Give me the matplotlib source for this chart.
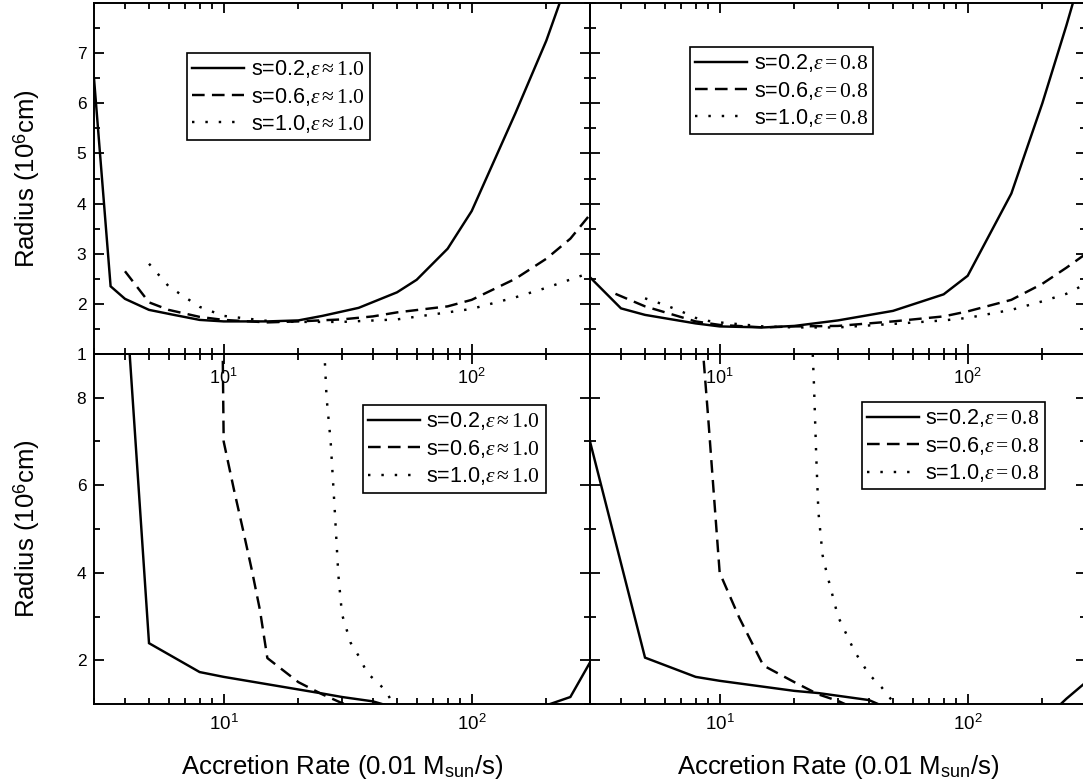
import numpy as np
import matplotlib
matplotlib.use("Agg")
import matplotlib.pyplot as plt
from matplotlib.ticker import LogLocator, FixedLocator, MultipleLocator, NullFormatter

plt.rcParams['font.family'] = ['Liberation Sans', 'DejaVu Sans']
# sans for plain text, Times-like serif for the epsilon part of the legend
plt.rcParams['mathtext.fontset'] = 'custom'
plt.rcParams['mathtext.rm'] = 'Liberation Sans'
plt.rcParams['mathtext.it'] = 'Liberation Serif:italic'
plt.rcParams['mathtext.sf'] = 'Liberation Serif'
plt.rcParams['mathtext.bf'] = 'Liberation Sans:bold'

# top left panel, eps ~ 1.0
x_tl_s02 = [3, 3.5, 4, 5, 6.3, 8, 10, 15, 20, 25, 35, 50, 60, 80, 100, 150, 200, 250]
r_tl_s02 = [6.5, 2.35, 2.1, 1.88, 1.78, 1.68, 1.65, 1.65, 1.67, 1.76, 1.92, 2.23, 2.48, 3.1, 3.85, 5.8, 7.25, 8.6]
x_tl_s06 = [4, 5, 6, 8, 10, 15, 20, 30, 40, 50, 80, 100, 150, 200, 250, 300]
r_tl_s06 = [2.65, 2.03, 1.88, 1.74, 1.68, 1.63, 1.65, 1.69, 1.75, 1.83, 1.95, 2.08, 2.5, 2.9, 3.3, 3.78]
x_tl_s10 = [5, 6, 7, 8, 10, 15, 20, 30, 50, 80, 100, 150, 200, 300]
r_tl_s10 = [2.8, 2.35, 2.13, 1.94, 1.76, 1.66, 1.64, 1.64, 1.69, 1.83, 1.9, 2.13, 2.32, 2.62]

# top right panel, eps = 0.8
x_tr_s02 = [3, 4, 5, 8, 10, 15, 20, 30, 50, 80, 100, 150, 200, 250, 300]
r_tr_s02 = [2.53, 1.91, 1.78, 1.61, 1.55, 1.53, 1.56, 1.67, 1.86, 2.19, 2.56, 4.2, 6.0, 7.55, 8.9]
x_tr_s06 = [3.8, 5, 8, 10, 15, 20, 30, 50, 80, 100, 150, 200, 250, 300]
r_tr_s06 = [2.2, 1.95, 1.65, 1.58, 1.53, 1.55, 1.56, 1.65, 1.75, 1.85, 2.08, 2.4, 2.72, 3.0]
x_tr_s10 = [5, 6, 7, 8, 9, 10, 15, 20, 30, 50, 80, 100, 150, 200, 250, 300]
r_tr_s10 = [2.11, 1.98, 1.85, 1.72, 1.66, 1.63, 1.55, 1.53, 1.53, 1.6, 1.67, 1.72, 1.88, 2.05, 2.2, 2.4]

# bottom left panel, eps ~ 1.0
x_bl_s02 = [4, 5, 8, 10, 25, 30, 40, 50, 100, 200, 250, 300]
r_bl_s02 = [10.6, 2.39, 1.73, 1.62, 1.24, 1.16, 1.06, 0.9, 0.6, 0.97, 1.16, 1.95]
x_bl_s06 = [9.9, 10, 11, 12, 13, 14, 15, 20, 25, 30, 35]
r_bl_s06 = [9.3, 7.0, 5.9, 4.95, 4.05, 3.15, 2.05, 1.5, 1.22, 1.02, 0.9]
x_bl_s10 = [25.3, 26, 27, 28, 29, 30, 32.5, 35, 38, 42, 45, 50]
r_bl_s10 = [9.4, 8.0, 7.0, 5.5, 3.95, 3.05, 2.4, 2.1, 1.7, 1.48, 1.3, 0.85]

# bottom right panel, eps = 0.8
x_br_s02 = [3, 5, 8, 10, 20, 25, 40, 50, 100, 200, 250, 300]
r_br_s02 = [7.0, 2.06, 1.62, 1.53, 1.30, 1.25, 1.09, 0.85, 0.6, 0.6, 1.12, 1.5]
x_br_s06 = [8.5, 9, 9.5, 10, 12, 15, 20, 25, 30, 35]
r_br_s06 = [9.3, 7.5, 5.7, 4.0, 2.97, 1.88, 1.5, 1.22, 1.07, 0.9]
x_br_s10 = [23.5, 24.0, 24.5, 25.0, 26, 27, 30, 35, 40, 45, 50, 55]
r_br_s10 = [9.6, 8.3, 6.7, 5.4, 4.4, 4.0, 3.0, 2.2, 1.68, 1.38, 1.05, 0.8]

labels_eps1 = [r's=0.2,$\varepsilon\mathsf{\approx1.0}$', r's=0.6,$\varepsilon\mathsf{\approx1.0}$',
               r's=1.0,$\varepsilon\mathsf{\approx1.0}$']
labels_eps08 = [r's=0.2,$\varepsilon\mathsf{=0.8}$', r's=0.6,$\varepsilon\mathsf{=0.8}$',
                r's=1.0,$\varepsilon\mathsf{=0.8}$']

styles = ['-', (0, (5.2, 3)), (0, (1, 4.5))]

W, H = 1083, 784
fig = plt.figure(figsize=(W / 100, H / 100), dpi=100)

# pixel boxes of the four panels
x_left, x_mid, pw = 94, 590, 496
y_top, y_mid, y_bot = 3, 354, 704


def make_axes(x0, ytop, ybottom):
    ax = fig.add_axes([x0 / W, (H - ybottom) / H, pw / W, (ybottom - ytop) / H])
    ax.patch.set_visible(False)
    return ax


ax_bl = make_axes(x_left, y_mid, y_bot)
ax_br = make_axes(x_mid, y_mid, y_bot)
ax_tl = make_axes(x_left, y_top, y_mid)
ax_tr = make_axes(x_mid, y_top, y_mid)

panels = [
    (ax_tl, [(x_tl_s02, r_tl_s02), (x_tl_s06, r_tl_s06), (x_tl_s10, r_tl_s10)], labels_eps1, (0.1875, 0.858)),
    (ax_tr, [(x_tr_s02, r_tr_s02), (x_tr_s06, r_tr_s06), (x_tr_s10, r_tr_s10)], labels_eps08, (0.2016, 0.875)),
    (ax_bl, [(x_bl_s02, r_bl_s02), (x_bl_s06, r_bl_s06), (x_bl_s10, r_bl_s10)], labels_eps1, (0.5423, 0.854)),
    (ax_br, [(x_br_s02, r_br_s02), (x_br_s06, r_br_s06), (x_br_s10, r_br_s10)], labels_eps08, (0.548, 0.863)),
]

for ax, series, labels, anchor in panels:
    for (xs, rs), ls, lab in zip(series, styles, labels):
        ax.plot(xs, rs, color='black', linestyle=ls, linewidth=1.75, label=lab,
                dash_capstyle='butt', solid_joinstyle='miter')
    ax.set_xscale('log')
    ax.set_xlim(3, 300)
    ax.xaxis.set_major_locator(LogLocator(base=10))
    ax.xaxis.set_minor_locator(LogLocator(base=10, subs=np.arange(2, 10)))
    ax.xaxis.set_minor_formatter(NullFormatter())
    for sp in ax.spines.values():
        sp.set_linewidth(1.4)
    ax.tick_params(which='both', direction='in', top=True, right=True, width=1.3)
    ax.tick_params(which='major', length=7.5)
    ax.tick_params(which='minor', length=4.5)
    leg = ax.legend(loc='upper left', bbox_to_anchor=anchor, fontsize=15.5,
                    handlelength=2.4, handletextpad=0.3, borderpad=0.25,
                    labelspacing=0.25, borderaxespad=0, fancybox=False,
                    framealpha=1, edgecolor='black')
    leg.get_frame().set_linewidth(1.2)

for ax in (ax_tl, ax_tr):
    ax.set_ylim(1, 8)
    ax.yaxis.set_major_locator(FixedLocator([1, 2, 3, 4, 5, 6, 7]))
    ax.yaxis.set_minor_locator(MultipleLocator(0.5))
    ax.tick_params(axis='x', which='major', labelsize=13, pad=10)

for ax in (ax_bl, ax_br):
    ax.set_ylim(1, 9)
    ax.yaxis.set_major_locator(MultipleLocator(2))
    ax.yaxis.set_minor_locator(MultipleLocator(1))
    ax.tick_params(axis='x', which='major', labelsize=13.5, pad=7)
    ax.set_xlabel(r'Accretion Rate (0.01 M$_{\mathregular{sun}}$/s)', fontsize=18.5)
    ax.xaxis.set_label_coords(0.5, -0.14)

for ax in (ax_tl, ax_bl):
    ax.tick_params(axis='y', which='major', labelsize=12.5, pad=5.5)
    ax.set_ylabel(r'Radius (10$^{\mathregular{6}}$cm)', fontsize=18.5)
    ax.yaxis.set_label_coords(-0.105, 0.5)

for ax in (ax_tr, ax_br):
    ax.tick_params(axis='y', which='both', labelleft=False)

fig.savefig('out.png', dpi=100, facecolor='white')
